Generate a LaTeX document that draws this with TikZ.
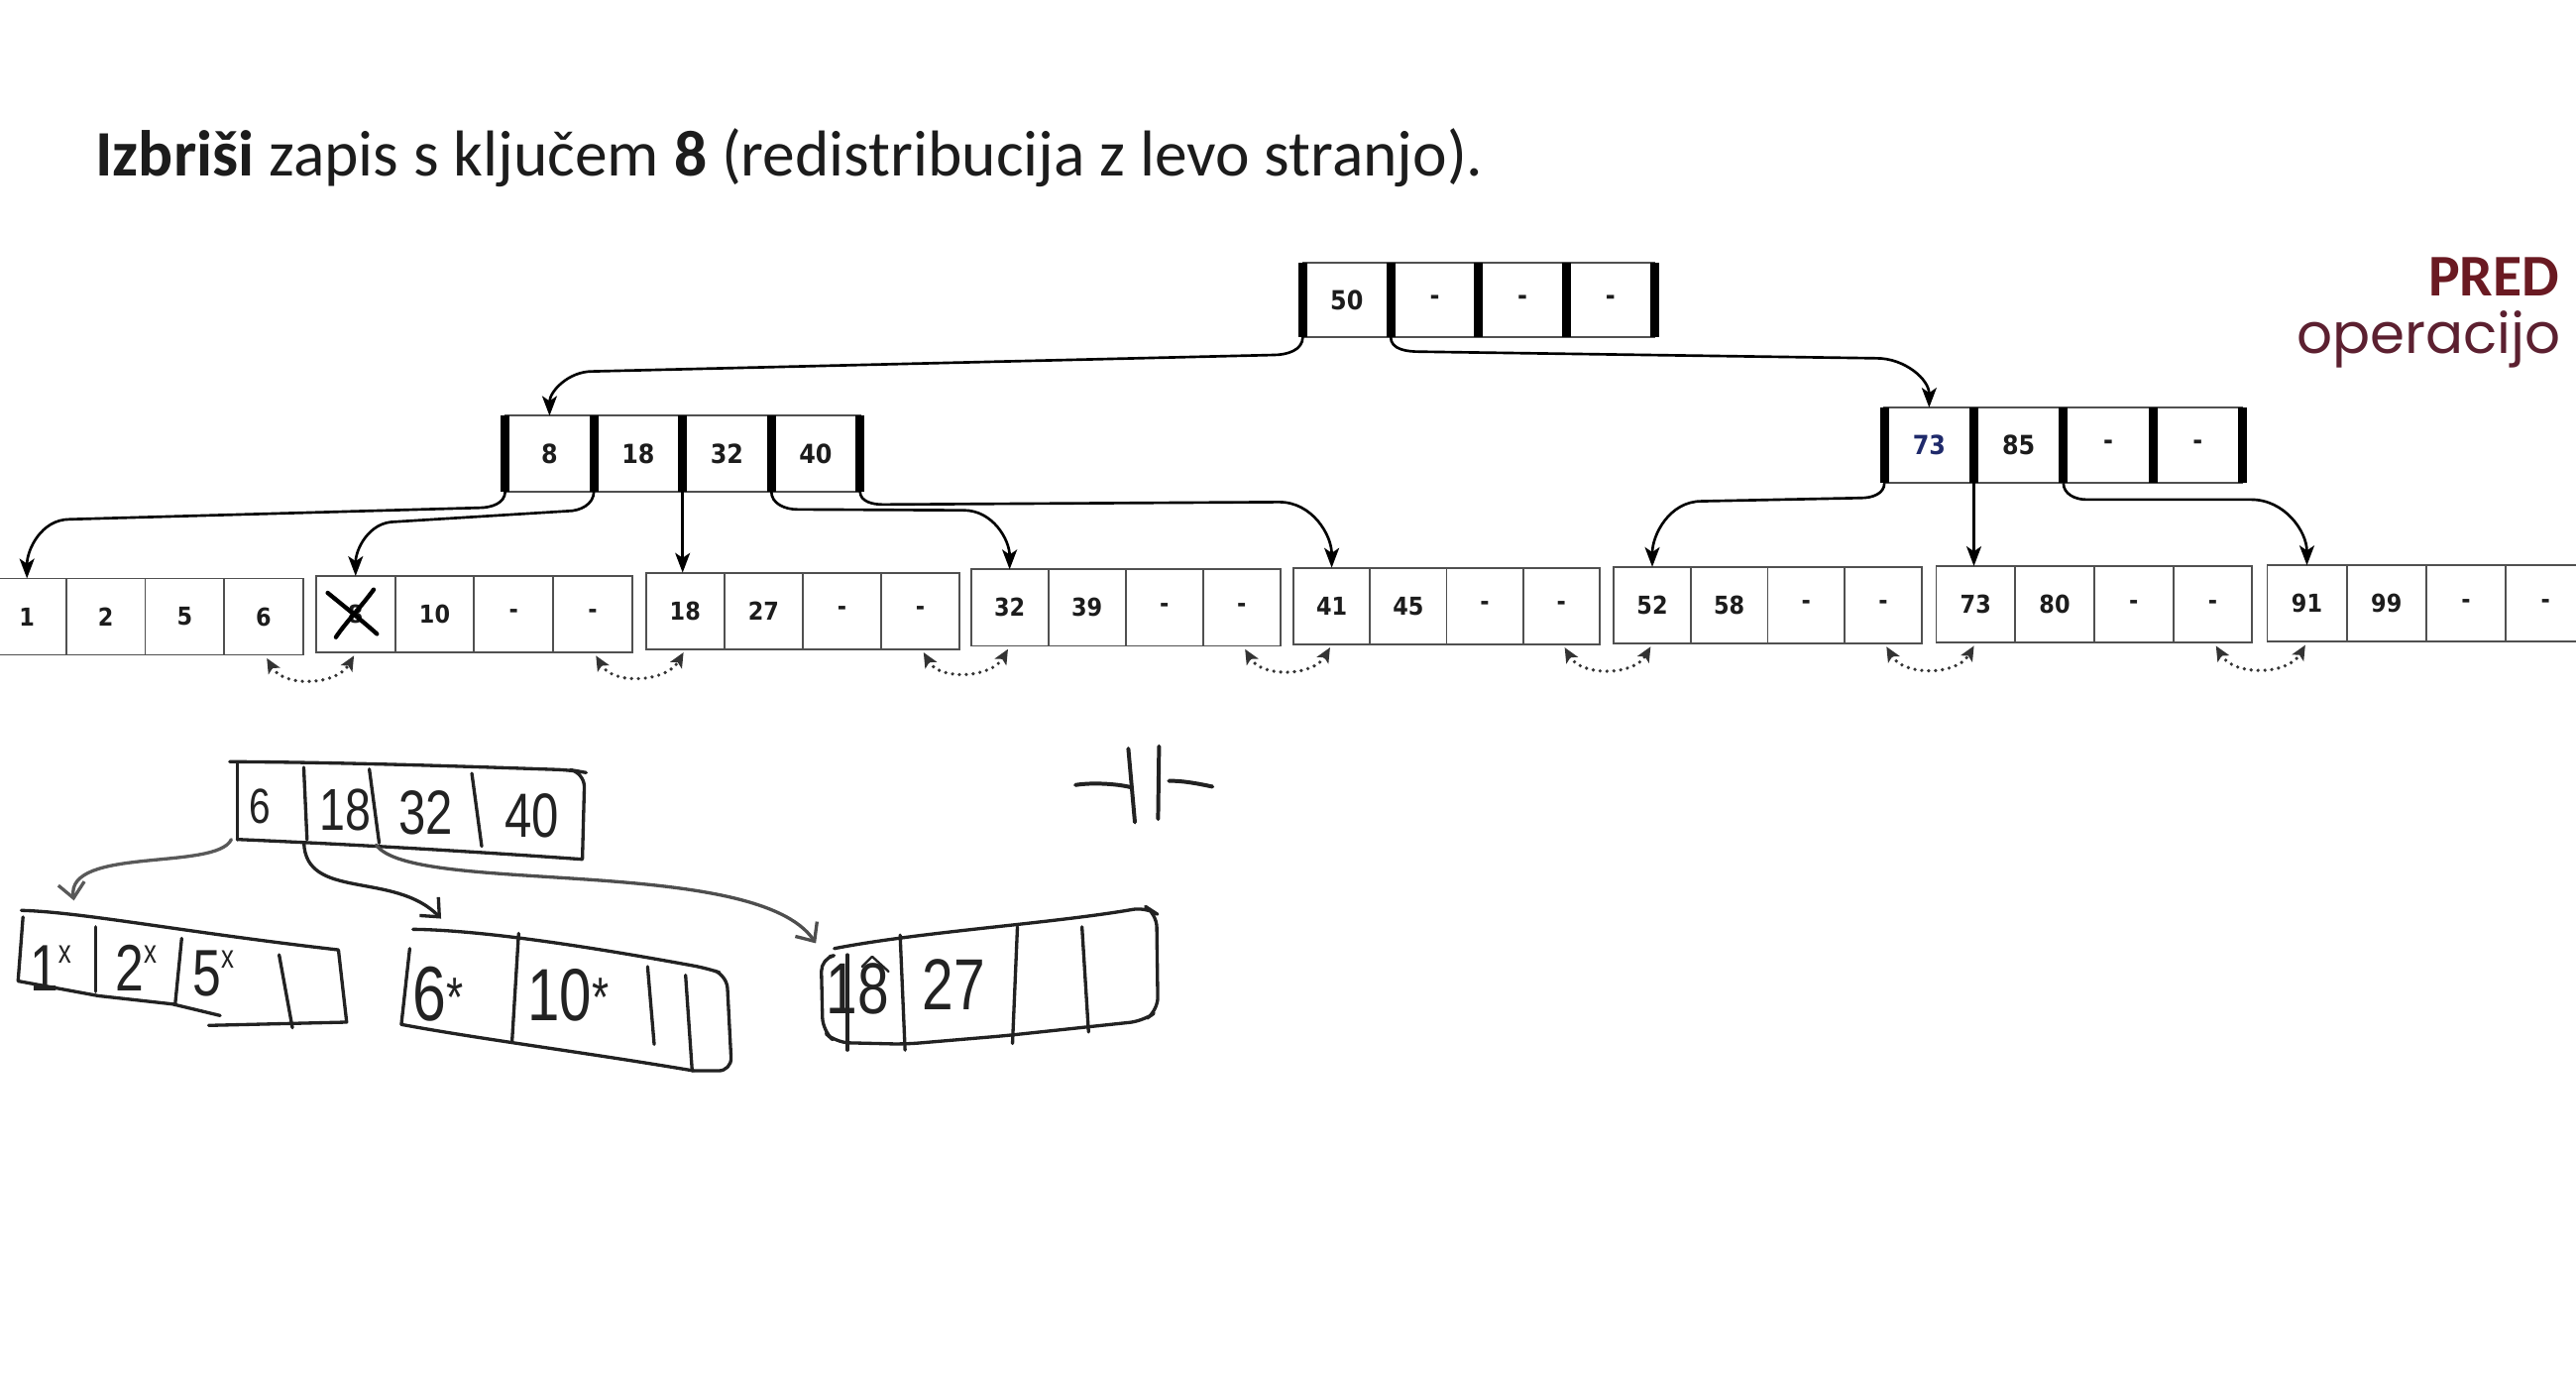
\documentclass[tikz,border=0pt]{standalone}
\usepackage{fontspec}
\setmainfont{Carlito}
\newfontfamily\cellfont[FakeStretch=0.9]{DejaVu Sans}
\newfontfamily\geofont{Poppins}
\newfontfamily\handfont[FakeStretch=0.78]{Liberation Sans}
\usetikzlibrary{arrows.meta,calc}
\definecolor{ink}{HTML}{1C1C1C}
\definecolor{predred}{HTML}{6A1A22}
\definecolor{opred}{HTML}{5C2030}
\definecolor{numblue}{HTML}{1F2A6B}
\definecolor{cellgray}{HTML}{505050}
\definecolor{handink}{HTML}{222222}
\newcommand{\hx}{\raisebox{0.42em}{\fontsize{20}{20}\selectfont x}}
\newcommand{\hst}{\raisebox{0.05em}{\fontsize{34}{34}\selectfont *}}
\begin{document}
\begin{tikzpicture}[x=1pt,y=-1pt,
  cellL/.style={draw=cellgray, line width=1.1pt, minimum width=48pt, minimum height=46.5pt, inner sep=0pt, outer sep=0pt, font=\cellfont\bfseries\fontsize{15}{15}\selectfont, text=ink, anchor=north west},
  cellI/.style={draw=cellgray, line width=1.1pt, minimum width=54pt, minimum height=46pt, inner sep=0pt, outer sep=0pt, font=\cellfont\bfseries\fontsize{16}{16}\selectfont, text=ink, anchor=north west},
  thickbar/.style={line width=5.5pt, black},
  ptr/.style={line width=1.6pt, black, -{Stealth[length=12pt,width=9pt,inset=3pt]}},
  sib/.style={line width=2.2pt, black!80, dash pattern=on 0pt off 4.2pt, line cap=round, {Stealth[length=9pt,width=8pt,inset=2pt]}-{Stealth[length=9pt,width=8pt,inset=2pt]}},
  hand/.style={line width=2pt, handink, line cap=round, line join=round},
  handarrow/.style={hand, -{Straight Barb[length=9pt,width=16pt]}},
  handtxt/.style={font=\handfont\fontsize{40}{40}\selectfont, text=handink, inner sep=0pt},
]
\useasboundingbox (0,0) rectangle (1568,844);
\fill[white] (0,0) rectangle (1568,844);

% header texts
\node[anchor=base west, inner sep=0pt, font=\fontsize{39.5}{46}\selectfont, text=ink] (title) at (58,107)
  {\textbf{Izbriši} zapis s ključem \textbf{8} (redistribucija z levo stranjo).};
\node[anchor=base east, inner sep=0pt, font=\bfseries\fontsize{36}{40}\selectfont, text=predred] (pred) at (1558,180) {PRED};
\node[anchor=base east, inner sep=0pt, font=\geofont\fontsize{34}{40}\selectfont, text=opred] (oper) at (1559,215) {operacijo};

% root node
\node[cellI, minimum width=53.5pt, minimum height=45pt] (r1) at (793,160) {50};
\node[cellI, minimum width=53.5pt, minimum height=45pt] (r2) at (r1.north east) {-};
\node[cellI, minimum width=53.5pt, minimum height=45pt] (r3) at (r2.north east) {-};
\node[cellI, minimum width=53.5pt, minimum height=45pt] (r4) at (r3.north east) {-};
\foreach \c in {r1,r2,r3,r4} \draw[thickbar] (\c.north west) -- (\c.south west);
\draw[thickbar] (r4.north east) -- (r4.south east);

% left inner node
\node[cellI] (a1) at (307.5,253) {8};
\node[cellI] (a2) at (a1.north east) {18};
\node[cellI] (a3) at (a2.north east) {32};
\node[cellI] (a4) at (a3.north east) {40};
\foreach \c in {a1,a2,a3,a4} \draw[thickbar] (\c.north west) -- (\c.south west);
\draw[thickbar] (a4.north east) -- (a4.south east);

% right inner node
\node[cellI, minimum width=54.5pt] (b1) at (1147,248) {\color{numblue}73};
\node[cellI, minimum width=54.5pt] (b2) at (b1.north east) {85};
\node[cellI, minimum width=54.5pt] (b3) at (b2.north east) {-};
\node[cellI, minimum width=54.5pt] (b4) at (b3.north east) {-};
\foreach \c in {b1,b2,b3,b4} \draw[thickbar] (\c.north west) -- (\c.south west);
\draw[thickbar] (b4.north east) -- (b4.south east);

% leaves
\foreach \n/\x/\y/\w/\a/\b/\c/\d in {
  1/-7.6/352/48/1/2/5/6,
  2/192.4/350.5/48.1/8/10/-/-,
  3/393.2/348.5/47.7/18/27/-/-,
  4/591/346.5/47.1/32/39/-/-,
  5/787.3/345.5/46.6/41/45/-/-,
  6/982.3/345/46.85/52/58/-/-,
  7/1178.5/344.5/48.1/73/80/-/-,
  8/1380/344/48.4/91/99/-/-}{
  \node[cellL, minimum width=\w pt] (l\n-1) at (\x,\y) {\a};
  \node[cellL, minimum width=\w pt] (l\n-2) at (l\n-1.north east) {\b};
  \node[cellL, minimum width=\w pt] (l\n-3) at (l\n-2.north east) {\c};
  \node[cellL, minimum width=\w pt] (l\n-4) at (l\n-3.north east) {\d};
}
% crossed-out key 8
\draw[line width=2.6pt, black, line cap=round] ($(l2-1.center)+(-17,-13)$) .. controls ($(l2-1.center)+(-6,-4)$) and ($(l2-1.center)+(4,4)$) .. ($(l2-1.center)+(13,12)$);
\draw[line width=2.6pt, black, line cap=round] ($(l2-1.center)+(11,-15)$) .. controls ($(l2-1.center)+(3,-4)$) and ($(l2-1.center)+(-6,5)$) .. ($(l2-1.center)+(-12,14)$);

% pointers root -> inner
\draw[ptr] (r1.south west) to[out=-90,in=0] ++(-18,11) -- ($(a1.north)+(26,-27)$) to[out=180,in=90] (a1.north);
\draw[ptr] (r1.south east) to[out=-90,in=180] ++(18,9) -- ($(b1.north)+(-32,-30)$) to[out=0,in=90] (b1.north);

% pointers left inner -> leaves
\draw[ptr] (a1.south west) to[out=-90,in=0] ++(-16,10) -- ($(l1-1.north)+(26,-36)$) to[out=180,in=90] (l1-1.north);
\draw[ptr] (a1.south east) to[out=-90,in=0] ++(-16,12) -- ($(l2-1.north)+(24,-33)$) to[out=180,in=90] (l2-1.north);
\draw[ptr] (a2.south east) -- (a2.south east |- l3-1.north);
\draw[ptr] (a3.south east) to[out=-90,in=180] ++(16,11) -- ($(l4-1.north)+(-28,-36)$) to[out=0,in=90] (l4-1.north);
\draw[ptr] (a4.south east) to[out=-90,in=180] ++(14,8) -- ($(l5-1.north)+(-32,-40)$) to[out=0,in=90] (l5-1.north);

% pointers right inner -> leaves
\draw[ptr] (b1.south west) to[out=-90,in=0] ++(-14,9) -- ($(l6-1.north)+(30,-40)$) to[out=180,in=90] (l6-1.north);
\draw[ptr] (b1.south east) -- (b1.south east |- l7-1.north);
\draw[ptr] (b2.south east) to[out=-90,in=180] ++(14,10) -- ($(l8-1.north)+(-34,-40)$) to[out=0,in=90] (l8-1.north);

% sibling links
\foreach \i/\j in {1/2,2/3,3/4,4/5,5/6,6/7,7/8}{
  \draw[sib] ($(l\i-4.south)+(2,2)$) to[out=-60,in=-120] ($(l\j-1.south)+(-1,2)$);
}

% ---- handwritten part ----
% top node
\draw[hand] (144.5,464.5) -- (144.5,511);
\draw[hand, rounded corners=9pt] (139.8,463.5) .. controls (220,464) and (300,467) .. (347.9,468.6) -- (355.9,470) -- (354.5,522.5);
\draw[hand] (144.5,510.8) .. controls (220,514) and (300,519) .. (354.5,522.9);
\draw[hand] (184.9,467) -- (186.9,511);
\draw[hand] (224.8,468) -- (230.8,513);
\draw[hand] (287.2,470.6) -- (293.2,515);
\node[handtxt, font=\handfont\fontsize{30}{30}\selectfont] (h6) at (158,491) {6};
\node[handtxt, font=\handfont\fontsize{36}{36}\selectfont] (h18) at (210,493) {18};
\node[handtxt, font=\handfont\fontsize{38}{38}\selectfont] (h32) at (259.4,494.7) {32};
\node[handtxt, font=\handfont\fontsize{38}{38}\selectfont] (h40) at (323.7,496.7) {40};

\coordinate (hA) at (140.8,510.8);
\coordinate (hB) at (185,512.8);
\coordinate (hC) at (229,514.1);
\coordinate (e1) at (45,548);
\coordinate (e2) at (268.5,559);
\coordinate (e3) at (496.6,574);
\draw[handarrow, handink!75] (hA) .. controls (132,530) and (40,515) .. (e1);
\draw[handarrow] (hB) .. controls (186,548) and (240,530) .. (e2);
\draw[handarrow, handink!80] (hC) .. controls (250,545) and (460,520) .. (e3);

% hand leaf 1
\draw[hand] (13,554) .. controls (50,555) and (110,567) .. (206,578) -- (211,622) -- (127,624);
\draw[hand] (14,558) -- (11,597) -- (60,606) -- (105,611) -- (134,618);
\draw[hand] (58.3,564) -- (58.3,603.4);
\draw[hand] (110.6,571) -- (106.6,611.4);
\draw[hand] (169.9,581) -- (178,625.4);
\node[handtxt, anchor=base west] (hl1a) at (18,603) {1\hx};
\node[handtxt, anchor=base west] (hl1b) at (70,603) {2\hx};
\node[handtxt, anchor=base west] (hl1c) at (117,606) {5\hx};

% hand leaf 2
\draw[hand, rounded corners=8pt] (251.4,565.5) .. controls (300,566) and (380,580) .. (430.4,589.2) -- (442.4,593.3) -- (445.4,651.6) -- (422.3,651.6);
\draw[hand] (244.3,623.4) .. controls (290,632) and (360,641) .. (422.3,651.6);
\draw[hand] (249.4,577.2) -- (244.3,623.4);
\draw[hand] (315.7,568) -- (311.7,633.5);
\draw[hand] (394.2,588.2) -- (398.2,635.5);
\draw[hand] (417.3,593.4) -- (421.3,651.6);
\node[handtxt, anchor=base west, font=\handfont\fontsize{47}{47}\selectfont] (hl2a) at (251,621) {6\hst};
\node[handtxt, anchor=base west, font=\handfont\fontsize{45}{45}\selectfont] (hl2b) at (321,621) {10\hst};

% hand leaf 3
\draw[hand, rounded corners=8pt] (507.8,577.2) .. controls (560,567) and (640,562) .. (697.8,552) -- (704,556) -- (704.8,615) -- (695.8,621.3) -- (611.3,630.3) -- (551,635.4) -- (508.8,634.4) -- (500.8,627.3) -- (499.8,583.1) -- (505,582);
\draw[hand] (515.8,581) -- (515.8,639);
\draw[hand] (547.9,569) -- (550.9,639);
\draw[hand] (619.3,564) -- (616.3,635);
\draw[hand] (658.6,564) -- (662.6,628);
\node[handtxt, font=\handfont\fontsize{44}{44}\selectfont] (hl3a) at (522,602) {18};
\node[handtxt, font=\handfont\fontsize{44}{44}\selectfont] (hl3b) at (580.5,599) {27};
\draw[hand, line width=1.4pt] (524.8,588.2) -- (530.9,582.1) -- (540.9,591.2);

% -||- mark
\draw[hand, line width=2.4pt] (654.6,477.7) .. controls (665,476) and (680,477) .. (688,479);
\draw[hand, line width=2.4pt] (686.8,455.5) -- (690.8,500.4);
\draw[hand, line width=2.4pt] (705.5,454.1) -- (704.9,498.4);
\draw[hand, line width=2.4pt] (711.5,475.2) .. controls (720,475) and (730,477) .. (738,478.7);
\end{tikzpicture}
\end{document}
